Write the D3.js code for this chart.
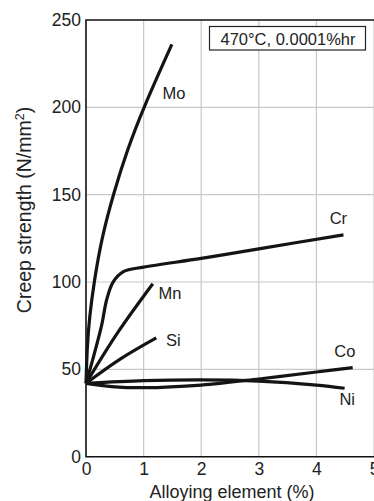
<!DOCTYPE html>
<html>
<head>
<meta charset="utf-8">
<script src="https://cdn.jsdelivr.net/npm/d3@7"></script>
<style>
  html, body { margin: 0; padding: 0; background: #fff; }
  svg { display: block; font-family: "Liberation Sans", Arial, Helvetica, sans-serif; }
</style>
</head>
<body>
<div id="chart"></div>
<script>
// values (alloying element %, creep strength N/mm2)
const xTicks = [0, 1, 2, 3, 4, 5]
const yTicks = [0, 50, 100, 150, 200, 250]

const moPoints = [[0, 42], [0.02, 63], [0.06, 80], [0.14, 100], [0.27, 125], [0.48, 151], [0.72, 176], [1.0, 200], [1.49, 236]]
const crPoints = [[0, 42], [0.12, 56], [0.27, 75], [0.36, 90], [0.47, 100], [0.65, 106], [1.0, 108.5], [2, 113.5], [3, 119], [4.47, 127]]
const mnPoints = [[0, 42], [0.55, 71], [1.16, 99]]
const siPoints = [[0, 42], [0.6, 56], [1.22, 68]]
const coPoints = [[0, 42], [0.5, 40], [1.0, 39.5], [2, 41], [3, 44.5], [4, 48.5], [4.63, 51]]
const niPoints = [[0, 42], [1, 43.5], [2, 44], [3, 43.3], [4, 41], [4.49, 39.2]]

const seriesNames = ['Mo', 'Cr', 'Mn', 'Si', 'Co', 'Ni']
const seriesPoints = [moPoints, crPoints, mnPoints, siPoints, coPoints, niPoints]
// label anchors in data units
const labelX = [1.33, 4.23, 1.26, 1.39, 4.31, 4.40]
const labelY = [205, 133, 90, 63.4, 57, 29.6]

const legendText = '470°C, 0.0001%hr'

const width = 374, height = 501
const margin = { top: 20, right: 0, bottom: 44.3, left: 86 }

const svg = d3.select('#chart').append('svg')
  .attr('width', width)
  .attr('height', height)

const x = d3.scaleLinear().domain([0, 5]).range([margin.left, width - margin.right])
const y = d3.scaleLinear().domain([0, 250]).range([height - margin.bottom, margin.top])

// grid
svg.append('g')
  .selectAll('line')
  .data(xTicks.slice(1))
  .join('line')
  .attr('x1', d => x(d)).attr('x2', d => x(d))
  .attr('y1', y(0)).attr('y2', y(250))
  .attr('stroke', '#c8c8c8')
  .attr('stroke-width', 1.2)

svg.append('g')
  .selectAll('line')
  .data(yTicks.slice(1, -1))
  .join('line')
  .attr('x1', x(0)).attr('x2', x(5))
  .attr('y1', d => y(d)).attr('y2', d => y(d))
  .attr('stroke', '#c8c8c8')
  .attr('stroke-width', 1.2)

// frame: left, bottom, top
svg.append('path')
  .attr('d', `M${x(5)},${y(250)}H${x(0)}V${y(0)}H${x(5)}`)
  .attr('fill', 'none')
  .attr('stroke', '#111')
  .attr('stroke-width', 1.6)

// axes (labels only)
const xAxis = svg.append('g')
  .attr('transform', `translate(0,${y(0)})`)
  .call(d3.axisBottom(x).tickValues(xTicks).tickSize(0).tickPadding(6).tickFormat(d3.format('d')))
xAxis.select('.domain').remove()
xAxis.selectAll('text')
  .attr('font-size', '17.5px')
  .attr('fill', '#222')
  .attr('font-family', null)

const yAxis = svg.append('g')
  .attr('transform', `translate(${x(0)},0)`)
  .call(d3.axisLeft(y).tickValues(yTicks).tickSize(0).tickPadding(5).tickFormat(d3.format('d')))
yAxis.select('.domain').remove()
yAxis.selectAll('text')
  .attr('font-size', '17.5px')
  .attr('fill', '#222')
  .attr('font-family', null)

// axis titles
svg.append('text')
  .attr('x', 232)
  .attr('y', 498)
  .attr('text-anchor', 'middle')
  .attr('font-size', '18px')
  .attr('fill', '#222')
  .text('Alloying element (%)')

const yTitle = svg.append('text')
  .attr('transform', 'translate(31,210) rotate(-90)')
  .attr('text-anchor', 'middle')
  .attr('font-size', '19.5px')
  .attr('fill', '#222')
yTitle.append('tspan').text('Creep strength (N/mm')
yTitle.append('tspan').attr('font-size', '12.5px').attr('dy', '-7').text('2')
yTitle.append('tspan').attr('dy', '7').text(')')

// curves (Mo smoothed with a B-spline, the rest pass through the read points)
const line = d3.line()
  .x(d => x(d[0]))
  .y(d => y(d[1]))

svg.append('g')
  .selectAll('path')
  .data(seriesPoints)
  .join('path')
  .attr('d', (d, i) => line.curve(i === 0 ? d3.curveBasis : d3.curveCatmullRom.alpha(0.5))(d))
  .attr('fill', 'none')
  .attr('stroke', '#141414')
  .attr('stroke-width', 3.2)
  .attr('stroke-linecap', 'butt')
  .attr('stroke-linejoin', 'round')

// curve labels
svg.append('g')
  .selectAll('text')
  .data(seriesNames)
  .join('text')
  .attr('x', (d, i) => x(labelX[i]))
  .attr('y', (d, i) => y(labelY[i]))
  .attr('font-size', '16.5px')
  .attr('fill', '#222')
  .text(d => d)

// legend box
svg.append('rect')
  .attr('x', 209.5)
  .attr('y', 26.5)
  .attr('width', 156)
  .attr('height', 23.5)
  .attr('fill', '#fff')
  .attr('stroke', '#222')
  .attr('stroke-width', 1.2)

svg.append('text')
  .attr('x', 288)
  .attr('y', 44.5)
  .attr('text-anchor', 'middle')
  .attr('font-size', '16.5px')
  .attr('fill', '#222')
  .text(legendText)
</script>
</body>
</html>
